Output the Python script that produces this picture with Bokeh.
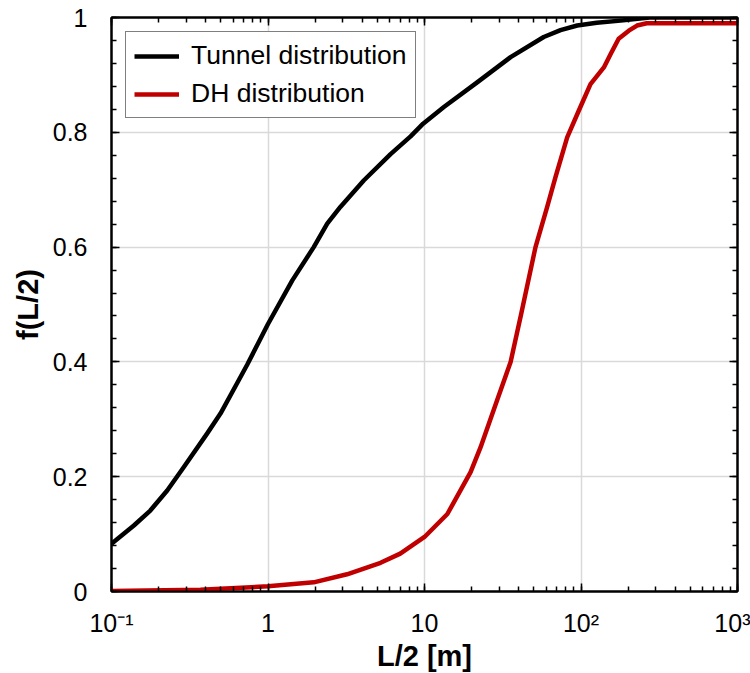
from bokeh.plotting import figure
from bokeh.models import (LogAxis, LinearAxis, Range1d, FixedTicker, LogTicker, BasicTicker,
                          Legend, LegendItem, CustomJSTickFormatter)
from bokeh.embed import file_html
from bokeh.resources import INLINE

# ---- data ----
tunnel_L = [0.1, 0.139, 0.177, 0.227, 0.29, 0.408, 0.497, 0.65, 0.736, 1.0, 1.43, 1.96,
            2.39, 2.9, 4.09, 6.07, 8.15, 9.8, 13.3, 21.7, 35.5, 57.8, 74.0, 94.6, 126, 186, 275, 1000]
tunnel_f = [0.083, 0.115, 0.141, 0.176, 0.217, 0.275, 0.31, 0.368, 0.395, 0.466, 0.542, 0.600,
            0.641, 0.670, 0.716, 0.762, 0.793, 0.815, 0.844, 0.887, 0.931, 0.966, 0.978, 0.986,
            0.991, 0.995, 1.0, 1.0]

dh_L = [0.1, 0.37, 1.0, 1.96, 3.2, 5.24, 7.0, 10, 14.0, 19.7, 22.8, 29.1, 35.5, 41.5, 51.2, 60.8,
        68.7, 81.6, 96.9, 115, 140, 155, 174, 202, 228, 263, 290, 1000]
dh_f = [0.001, 0.003, 0.009, 0.016, 0.030, 0.050, 0.066, 0.095, 0.135, 0.208, 0.251, 0.333,
        0.400, 0.484, 0.600, 0.670, 0.722, 0.791, 0.838, 0.884, 0.913, 0.937, 0.963, 0.977,
        0.986, 0.990, 0.990, 0.990]

x_ticks = [0.1, 1, 10, 100, 1000]
x_tick_labels = ["10\u207b\u00b9", "1", "10", "10\u00b2", "10\u00b3"]
y_ticks = [0, 0.2, 0.4, 0.6, 0.8, 1.0]
y_tick_labels = ["0", "0.2", "0.4", "0.6", "0.8", "1"]

series_names = ["Tunnel distribution", "DH distribution"]
series_colors = ["#000000", "#c00000"]

FONT = "Liberation Sans"

p = figure(frame_width=626, frame_height=574, x_axis_type="log", y_axis_type="linear",
           x_range=Range1d(0.1, 1000), y_range=Range1d(0, 1),
           output_backend="svg", toolbar_location=None,
           min_border_left=111, min_border_right=13, min_border_top=17, min_border_bottom=80)

p.background_fill_color = "white"
p.border_fill_color = "white"
p.outline_line_color = "black"
p.outline_line_width = 2

# grid
p.xgrid.ticker = FixedTicker(ticks=[1, 10, 100])
p.ygrid.ticker = FixedTicker(ticks=[0.2, 0.4, 0.6, 0.8])
for g in (p.xgrid, p.ygrid):
    g.grid_line_color = "#d9d9d9"
    g.grid_line_width = 1.5

def style_axis(ax, labels=True):
    ax.axis_line_color = "black"
    ax.axis_line_width = 2
    ax.major_tick_in = 8
    ax.major_tick_out = 0
    ax.minor_tick_in = 5
    ax.minor_tick_out = 0
    ax.major_tick_line_color = "black"
    ax.minor_tick_line_color = "black"
    ax.major_tick_line_width = 1.5
    ax.minor_tick_line_width = 1.5
    if labels:
        ax.major_label_text_font = FONT
        ax.major_label_text_font_size = "25px"
        ax.major_label_text_color = "black"
        ax.axis_label_text_font = FONT
        ax.axis_label_text_font_size = "29px"
        ax.axis_label_text_font_style = "bold"
        ax.axis_label_text_color = "black"
    else:
        ax.formatter = CustomJSTickFormatter(code="return ' '")
        ax.major_label_text_font_size = "6px"
        ax.major_label_standoff = 0

xax = p.xaxis[0]
xax.ticker = LogTicker(num_minor_ticks=10, desired_num_ticks=5)
xax.major_label_overrides = {t: l for t, l in zip(x_ticks, x_tick_labels)}
xax.axis_label = "L/2 [m]"
style_axis(xax)
xax.major_label_standoff = 17
xax.axis_label_standoff = 0

yax = p.yaxis[0]
yax.ticker = BasicTicker(desired_num_ticks=6, num_minor_ticks=5)
yax.major_label_overrides = {t: l for t, l in zip(y_ticks, y_tick_labels)}
yax.axis_label = "f(L/2)"
style_axis(yax)
yax.major_label_standoff = 24
yax.axis_label_standoff = 6

top = LogAxis(ticker=LogTicker(num_minor_ticks=10, desired_num_ticks=5))
style_axis(top, labels=False)
p.add_layout(top, "above")

right = LinearAxis(ticker=BasicTicker(desired_num_ticks=6, num_minor_ticks=5))
style_axis(right, labels=False)
p.add_layout(right, "right")

r1 = p.line(tunnel_L, tunnel_f, line_color=series_colors[0], line_width=4.5, line_join="round")
r2 = p.line(dh_L, dh_f, line_color=series_colors[1], line_width=4.5, line_join="round")

legend = Legend(items=[LegendItem(label=series_names[0], renderers=[r1]),
                       LegendItem(label=series_names[1], renderers=[r2])],
                location="top_left")
legend.margin = 14
legend.padding = 8
legend.spacing = 7
legend.glyph_width = 45
legend.label_standoff = 12
legend.label_text_font = FONT
legend.label_text_font_size = "26.5px"
legend.label_text_color = "black"
legend.border_line_color = "black"
legend.border_line_width = 1.5
legend.background_fill_alpha = 1
p.add_layout(legend, "center")

open("out.html", "w").write(file_html(p, INLINE))
